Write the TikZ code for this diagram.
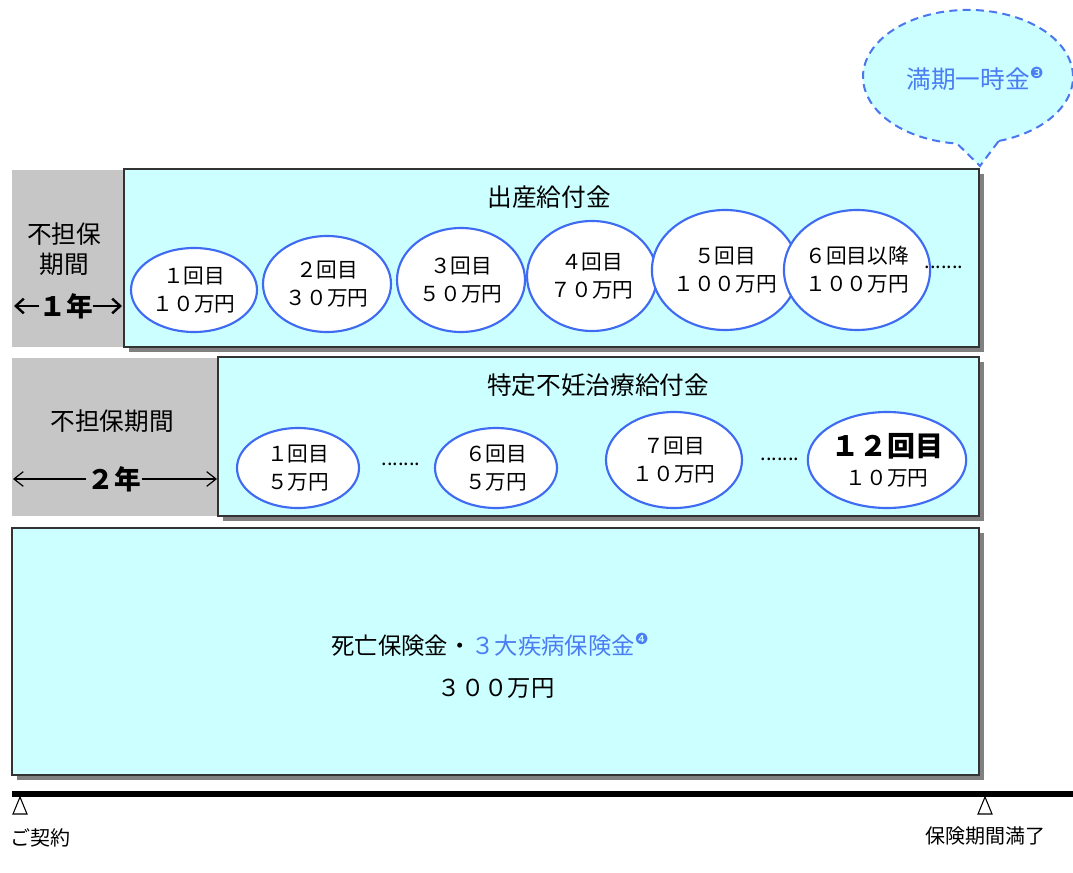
\documentclass[tikz,border=0pt]{standalone}
\usepackage{fontspec}
\setmainfont{Noto Sans CJK JP}
\newfontfamily\symfont{DejaVu Sans}
\usetikzlibrary{shapes.geometric,arrows.meta,shadows}
\definecolor{cyanbg}{HTML}{CCFFFF}
\definecolor{graybg}{HTML}{C6C6C6}
\definecolor{shadowgray}{HTML}{808080}
\definecolor{ellblue}{HTML}{3F6BF2}
\definecolor{txtblue}{HTML}{4A7CF3}
\definecolor{dashblue}{HTML}{4A76EE}
\newcommand{\fsz}[2]{\fontsize{#1}{#2}\selectfont}
\newcommand{\circnum}[1]{\raisebox{0.42em}{\symfont\fsz{11.5pt}{11.5pt}#1}}
\begin{document}
\begin{tikzpicture}[x=0.75pt,y=-0.75pt,
  every node/.style={inner sep=0pt, outer sep=0pt},
  benefitbox/.style={draw=black!80, line width=0.8pt, fill=cyanbg,
    drop shadow={shadow xshift=3.75pt, shadow yshift=-3.75pt, fill=shadowgray, opacity=1}},
  waitbox/.style={fill=graybg},
  sized/.style 2 args={minimum width={#1*0.75pt}, minimum height={#2*0.75pt}},
  pay/.style={ellipse, draw=ellblue, line width=1.6pt, fill=white, align=center, font=\fsz{15.5pt}{21pt}},
  radii/.style 2 args={minimum width={#1*1.5pt}, minimum height={#2*1.5pt}},
  titletext/.style={font=\fsz{18.5pt}{22.5pt}, align=center},
  dotstext/.style={font=\fsz{15pt}{15pt}},
  yeartext/.style={font=\fsz{20pt}{20pt}\bfseries},
  thickarrow/.style={line width=1.8pt, -{Straight Barb[length=6pt,width=11pt]}},
  thinarrow/.style={line width=0.9pt, -{Straight Barb[length=7pt,width=11pt]}},
  marker/.style={draw=black, fill=white, line width=0.8pt},
  labeltext/.style={font=\fsz{15pt}{15pt}}
]
\useasboundingbox (0,0) rectangle (1073,873);
\clip (0,0) rectangle (1073,873);

% speech bubble
\path[draw=dashblue, fill=cyanbg, line width=1.5pt, dash pattern=on 6pt off 4pt]
  (998.7,141) arc[start angle=-73, end angle=264, x radius=78.75pt, y radius=50.25pt]
  -- (980,166) -- cycle;
\node[font=\fsz{18.5pt}{18.5pt}, text=txtblue] (bub) at (975,79) {満期一時金\circnum{❸}};

% row 1
\node[waitbox, sized={112}{177}] (w1) at (68,258.5) {};
\node[benefitbox, sized={855}{178}] (b1) at (551.5,258) {};
\node[titletext] (t1) at (549,197) {出産給付金};
\node[titletext] (w1t) at (64,249) {不担保\\期間};
\node[yeartext] (yr1) at (66,306) {１年};
\draw[thickarrow] (yr1.west) -- (14,306);
\draw[thickarrow] (yr1.east) -- (122,306);

\node[pay, radii={63}{42}] (e11) at (194,290) {１回目\\１０万円};
\node[pay, radii={64}{48}] (e12) at (327,284) {２回目\\３０万円};
\node[pay, radii={64}{52}] (e13) at (461,280) {３回目\\５０万円};
\node[pay, radii={65}{55}] (e14) at (592,276) {４回目\\７０万円};
\node[pay, radii={64}{60}] (e15) at (725,270) {５回目\\１００万円};
\node[pay, radii={64}{60}] (e16) at (857,270) {６回目以降\\１００万円};
\node[dotstext] (d1) at (944,267) {.......};

% row 2
\node[waitbox, sized={206}{158}] (w2) at (115,437) {};
\node[benefitbox, sized={761}{159}] (b2) at (598.5,436.5) {};
\node[titletext] (t2) at (598,385) {特定不妊治療給付金};
\node[titletext] (w2t) at (112,421) {不担保期間};
\node[yeartext] (yr2) at (114,479) {２年};
\draw[thinarrow] ([xshift=-1pt]yr2.west) -- (13,479);
\draw[thinarrow] ([xshift=1pt]yr2.east) -- (217,479);

\node[pay, radii={61}{40}] (e21) at (298,468) {１回目\\５万円};
\node[dotstext] (d21) at (401,464) {.......};
\node[pay, radii={61}{40}] (e22) at (496,468) {６回目\\５万円};
\node[pay, radii={68}{48}] (e23) at (674,460) {７回目\\１０万円};
\node[dotstext] (d22) at (780,459) {.......};
\node[pay, radii={68}{48}] (e24) at (887,460) {{\fsz{21pt}{24pt}\bfseries １２回目}\\[1pt]１０万円};

% row 3
\node[benefitbox, sized={967}{247}] (b3) at (495.5,651.5) {};
\node[font=\fsz{17.5pt}{17.5pt}] (t3) at (490,645) {死亡保険金・\textcolor{txtblue}{３大疾病保険金\circnum{❹}}};
\node[font=\fsz{17.5pt}{17.5pt}] (t3b) at (496,688) {３００万円};

% timeline
\coordinate (tl0) at (12,794);
\coordinate (tl1) at (1073,794);
\draw[line width=4.5pt] (tl0) -- (tl1);
\draw[marker] (20,797) -- (27,814) -- (13,814) -- cycle;
\draw[marker] (985,797) -- (992,814) -- (978,814) -- cycle;
\node[labeltext] (start) at (40,838) {ご契約};
\node[labeltext] (end) at (985,836) {保険期間満了};
\end{tikzpicture}
\end{document}
